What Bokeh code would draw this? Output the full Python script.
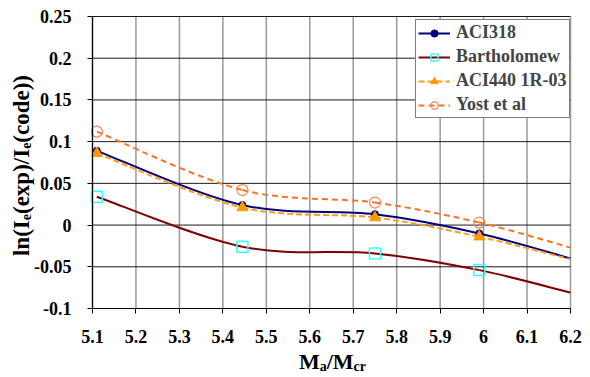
import numpy as np
from bokeh.plotting import figure
from bokeh.models import (FixedTicker, NumeralTickFormatter, Legend, LegendItem,
                          Label, ColumnDataSource, Range1d)
from bokeh.embed import file_html
from bokeh.resources import INLINE

# ---------------- data ----------------
ma_mcr = [5.11, 5.445, 5.75, 5.99, 6.2]          # last point = curve end at the axis edge
aci318 = [0.089, 0.024, 0.013, -0.010, -0.040]
bartholomew = [0.034, -0.026, -0.034, -0.054, -0.081]
aci440 = [0.086, 0.021, 0.009, -0.014, -0.041]
yost = [0.112, 0.042, 0.027, 0.003, -0.027]
n_markers = 4                                      # markers only at the measured points
x_ticks = [5.1, 5.2, 5.3, 5.4, 5.5, 5.6, 5.7, 5.8, 5.9, 6.0, 6.1, 6.2]
y_ticks = [-0.1, -0.05, 0.0, 0.05, 0.1, 0.15, 0.2, 0.25]
series_names = ["ACI318", "Bartholomew", "ACI440 1R-03", "Yost et al"]

SERIF = "Liberation Serif"
W, H = 590, 377
# pixel box of the data area inside the canvas
PX_L, PX_R, PX_T, PX_B = 92, 570, 16, 308

x_lo, x_hi = x_ticks[0], x_ticks[-1]
y_lo, y_hi = y_ticks[0], y_ticks[-1]
sx = (PX_R - PX_L) / (x_hi - x_lo)
sy = (PX_B - PX_T) / (y_hi - y_lo)
x_range = Range1d(x_lo - PX_L / sx, x_hi + (W - PX_R) / sx)
y_range = Range1d(y_lo - (H - PX_B) / sy, y_hi + PX_T / sy)


def smooth_source(xs, ys, t=1.0 / 6.0):
    """Bezier control points (Catmull-Rom style) like a spreadsheet 'smoothed line'."""
    xs = np.asarray(xs, dtype=float)
    ys = np.asarray(ys, dtype=float)
    n = len(xs)
    xp = np.concatenate([[xs[0]], xs, [xs[-1]]])
    yp = np.concatenate([[ys[0]], ys, [ys[-1]]])
    return ColumnDataSource(dict(
        x0=xs[:-1], y0=ys[:-1], x1=xs[1:], y1=ys[1:],
        cx0=xs[:-1] + (xp[2:n + 1] - xp[0:n - 1]) * t,
        cy0=ys[:-1] + (yp[2:n + 1] - yp[0:n - 1]) * t,
        cx1=xs[1:] - (xp[3:n + 2] - xp[1:n]) * t,
        cy1=ys[1:] - (yp[3:n + 2] - yp[1:n]) * t,
    ))


p = figure(width=W, height=H, output_backend="svg", toolbar_location=None,
           x_range=x_range, y_range=y_range, min_border=0)
p.outline_line_color = None
p.background_fill_color = "white"
p.border_fill_color = "white"
p.xgrid.visible = False
p.ygrid.visible = False

# grid lines limited to the data box
p.segment(x0=x_ticks, y0=[y_lo] * len(x_ticks), x1=x_ticks, y1=[y_hi] * len(x_ticks),
          line_color="#9a9a9a", line_width=1.5)
p.segment(x0=[x_lo] * len(y_ticks), y0=y_ticks, x1=[x_hi] * len(y_ticks), y1=y_ticks,
          line_color="#1a1a1a", line_width=1)

# axes placed at the data box edges
p.xaxis.fixed_location = y_lo
p.yaxis.fixed_location = x_lo
p.xaxis.bounds = (x_lo, x_hi)
p.yaxis.bounds = (y_lo, y_hi)
for ax, ticks in ((p.xaxis, x_ticks), (p.yaxis, y_ticks)):
    ax.ticker = FixedTicker(ticks=ticks)
    ax.formatter = NumeralTickFormatter(format="0.[00]")
    ax.major_label_text_font = SERIF
    ax.major_label_text_font_style = "bold"
    ax.major_label_text_font_size = "18px"
    ax.major_label_text_color = "black"
    ax.axis_line_color = "black"
    ax.axis_line_width = 1.2
    ax.major_tick_line_color = "black"
    ax.major_tick_out = 5
    ax.major_tick_in = 0
    ax.minor_tick_line_color = None
p.xaxis.major_label_standoff = 16
p.yaxis.major_label_standoff = 16

styles = [
    dict(line_color="#000080", line_dash="solid", marker="circle", size=7,
         fill_color="#000080", m_line="#000080", m_width=1),
    dict(line_color="#800000", line_dash="solid", marker="square", size=11,
         fill_color=None, m_line="#33ffff", m_width=1.5),
    dict(line_color="#ff9e1b", line_dash="6 3", marker="triangle", size=11,
         fill_color="#ff9900", m_line="#ff9900", m_width=1),
    dict(line_color="#ff7424", line_dash="6 4", marker="circle", size=11,
         fill_color=None, m_line="#ff7f50", m_width=1.2),
]

items = []
for name, ys, st in zip(series_names, [aci318, bartholomew, aci440, yost], styles):
    src = smooth_source(ma_mcr, ys)
    r_line = p.bezier(x0="x0", y0="y0", x1="x1", y1="y1", cx0="cx0", cy0="cy0",
                      cx1="cx1", cy1="cy1", source=src, line_color=st["line_color"],
                      line_width=2, line_dash=st["line_dash"])
    r_mark = p.scatter(ma_mcr[:n_markers], ys[:n_markers], marker=st["marker"],
                       size=st["size"], fill_color=st["fill_color"],
                       line_color=st["m_line"], line_width=st["m_width"])
    items.append(LegendItem(label=name, renderers=[r_line, r_mark]))

legend = Legend(items=items, location=(415, H - 118))
legend.border_line_color = "black"
legend.border_line_width = 1
legend.background_fill_color = "white"
legend.background_fill_alpha = 1
legend.label_text_font = SERIF
legend.label_text_font_style = "bold"
legend.label_text_font_size = "18px"
legend.glyph_width = 32
legend.glyph_height = 18
legend.label_height = 18
legend.label_width = 111
legend.spacing = 3
legend.padding = 2
legend.margin = 0
legend.label_standoff = 6
p.add_layout(legend)


# ---------------- axis titles built from pieces (subscripts) ----------------
def add_pieces(pieces, x0_off, y0_off, sub_shift, angle=0.0):
    """pieces: (text, size_px, width_em, sub); laid out along the text direction."""
    cum = 0.0
    for txt, size, wem, sub in pieces:
        if angle == 0.0:
            xo, yo = x0_off + cum, y0_off - (sub_shift if sub else 0)
        else:
            xo, yo = x0_off + (sub_shift if sub else 0), y0_off + cum
        p.add_layout(Label(x=x_lo, y=y_lo, x_units="data", y_units="data",
                           x_offset=xo, y_offset=yo, text=txt, angle=angle,
                           text_font=SERIF, text_font_style="bold",
                           text_font_size=f"{size}px", text_color="black",
                           text_align="left", text_baseline="alphabetic"))
        cum += wem * size


XL, XS = 22, 14
x_pieces = [("M", XL, 0.943, False), ("a", XS, 0.5, True),
            ("/M", XL, 0.278 + 0.943, False), ("cr", XS, 0.888, True)]
x_total = sum(w * s for _, s, w, _ in x_pieces)
add_pieces(x_pieces, (332 - PX_L) - x_total / 2, -(361 - PX_B), 4.5)

YL, YS = 23, 14
y_pieces = [("ln(I", YL, 1.556, False), ("e", YS, 0.444, True),
            ("(exp)/I", YL, 2.833, False), ("e", YS, 0.444, True),
            ("(code))", YL, 2.943, False)]
y_total = sum(w * s for _, s, w, _ in y_pieces)
add_pieces(y_pieces, 21 - PX_L, (PX_B - 165) - y_total / 2, 4, angle=np.pi / 2)

open("out.html", "w").write(file_html(p, INLINE))
